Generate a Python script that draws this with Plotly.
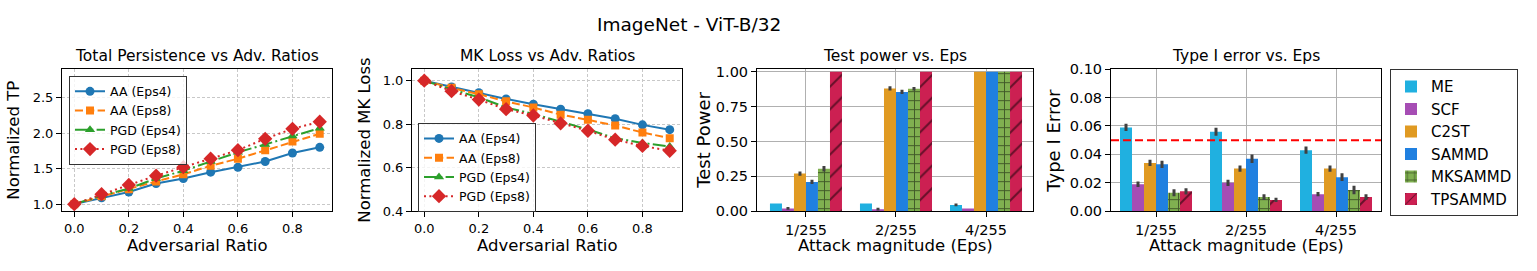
import plotly.graph_objects as go

W, H = 1537, 271

# ---------------- data ----------------
ratios = [0.0, 0.1, 0.2, 0.3, 0.4, 0.5, 0.6, 0.7, 0.8, 0.9]
line_names = ["AA (Eps4)", "AA (Eps8)", "PGD (Eps4)", "PGD (Eps8)"]

tp_aa4 = [1.00, 1.09, 1.17, 1.29, 1.36, 1.45, 1.52, 1.60, 1.72, 1.80]
tp_aa8 = [1.00, 1.11, 1.21, 1.32, 1.42, 1.54, 1.64, 1.76, 1.88, 1.99]
tp_pgd4 = [1.00, 1.12, 1.22, 1.36, 1.47, 1.60, 1.73, 1.84, 1.96, 2.07]
tp_pgd8 = [1.00, 1.14, 1.27, 1.40, 1.52, 1.64, 1.76, 1.92, 2.06, 2.16]

mk_aa4 = [1.00, 0.971, 0.945, 0.916, 0.892, 0.869, 0.848, 0.825, 0.797, 0.775]
mk_aa8 = [1.00, 0.967, 0.938, 0.905, 0.877, 0.844, 0.820, 0.794, 0.762, 0.736]
mk_pgd4 = [1.00, 0.960, 0.924, 0.877, 0.847, 0.811, 0.776, 0.736, 0.714, 0.697]
mk_pgd8 = [1.00, 0.952, 0.913, 0.869, 0.840, 0.804, 0.770, 0.729, 0.700, 0.678]

eps_labels = ["1/255", "2/255", "4/255"]
methods = ["ME", "SCF", "C2ST", "SAMMD", "MKSAMMD", "TPSAMMD"]

power = {
    "ME": [0.055, 0.055, 0.045],
    "SCF": [0.020, 0.015, 0.020],
    "C2ST": [0.270, 0.880, 1.000],
    "SAMMD": [0.210, 0.855, 1.000],
    "MKSAMMD": [0.305, 0.878, 1.000],
    "TPSAMMD": [1.000, 1.000, 1.000],
}
power_err = {
    "ME": [0.0, 0.0, 0.010],
    "SCF": [0.010, 0.010, 0.0],
    "C2ST": [0.015, 0.015, 0.0],
    "SAMMD": [0.015, 0.015, 0.0],
    "MKSAMMD": [0.020, 0.012, 0.0],
    "TPSAMMD": [0.0, 0.0, 0.0],
}
type1 = {
    "ME": [0.059, 0.056, 0.043],
    "SCF": [0.019, 0.020, 0.012],
    "C2ST": [0.034, 0.030, 0.030],
    "SAMMD": [0.033, 0.037, 0.024],
    "MKSAMMD": [0.013, 0.010, 0.015],
    "TPSAMMD": [0.014, 0.008, 0.010],
}
type1_err = {
    "ME": [0.0025, 0.0028, 0.0025],
    "SCF": [0.0020, 0.0022, 0.0015],
    "C2ST": [0.0022, 0.0022, 0.0022],
    "SAMMD": [0.0025, 0.0030, 0.0028],
    "MKSAMMD": [0.0025, 0.0020, 0.0030],
    "TPSAMMD": [0.0022, 0.0015, 0.0020],
}
alpha_level = 0.05

# ---------------- styles ----------------
FONT = "DejaVu Sans"
line_colors = ["#1f77b4", "#ff7f0e", "#2ca02c", "#d62728"]
line_dash = ["solid", "8px,3.3px", "13px,3.3px,2px,3.3px", "2px,3.4px"]
line_symbols = ["circle", "square", "triangle-up", "diamond"]
line_msize = [9, 8, 9, 11]

bar_colors = {"ME": "#20b0e0", "SCF": "#a64db4", "C2ST": "#e09a22",
              "SAMMD": "#2080e0", "MKSAMMD": "#80b050", "TPSAMMD": "#cc2052"}
bar_pattern = {"MKSAMMD": dict(shape="+", fgcolor="black", size=9, solidity=0.2),
               "TPSAMMD": dict(shape="/", fgcolor="black", size=16, solidity=0.12)}


def px_x(p):
    return p / W


def px_y(p):
    return 1 - p / H


fig = go.Figure()

# ---------- line panels ----------
for series, xa, ya, leg in [((tp_aa4, tp_aa8, tp_pgd4, tp_pgd8), "x", "y", "legend"),
                            ((mk_aa4, mk_aa8, mk_pgd4, mk_pgd8), "x2", "y2", "legend2")]:
    for i, vals in enumerate(series):
        fig.add_trace(go.Scatter(
            x=ratios, y=vals, mode="lines+markers", name=line_names[i],
            line=dict(color=line_colors[i], width=2, dash=line_dash[i]),
            marker=dict(symbol=line_symbols[i], size=line_msize[i], color=line_colors[i]),
            xaxis=xa, yaxis=ya, legend=leg, showlegend=True))

# ---------- bar panels ----------
for m in methods:
    pat = bar_pattern.get(m)
    mk = dict(color=bar_colors[m], line=dict(width=0))
    if pat:
        mk["pattern"] = dict(fillmode="overlay", **pat)
    fig.add_trace(go.Bar(
        x=eps_labels, y=power[m], name=m, marker=mk,
        error_y=dict(type="data", array=power_err[m], color="#404040", thickness=3, width=0),
        xaxis="x3", yaxis="y3", showlegend=False, legend="legend3"))
for m in methods:
    pat = bar_pattern.get(m)
    mk = dict(color=bar_colors[m], line=dict(width=0))
    if pat:
        mk["pattern"] = dict(fillmode="overlay", **pat)
    fig.add_trace(go.Bar(
        x=eps_labels, y=type1[m], name=m, marker=mk,
        error_y=dict(type="data", array=type1_err[m], color="#404040", thickness=3, width=0),
        xaxis="x4", yaxis="y4", showlegend=True, legend="legend3"))

# ---------- axes ----------
ydom = [px_y(216), px_y(65)]
common = dict(showline=True, mirror=True, linecolor="black", linewidth=1,
              ticks="outside", ticklen=5, tickcolor="black", zeroline=False)

line_ax_grid = dict(showgrid=True, gridcolor="#c8c8c8", gridwidth=0.8, griddash="3px,2px")
bar_ax_grid = dict(showgrid=True, gridcolor="#b0b0b0", gridwidth=1.1)

fig.update_layout(
    xaxis=dict(domain=[px_x(62), px_x(332)], anchor="y", range=[-0.045, 0.945],
               tickvals=[0, 0.2, 0.4, 0.6, 0.8], ticktext=["0.0", "0.2", "0.4", "0.6", "0.8"],
               tickfont=dict(size=13), **common, **line_ax_grid),
    yaxis=dict(domain=ydom, anchor="x", range=[0.9, 2.9],
               tickvals=[1.0, 1.5, 2.0, 2.5], ticktext=["1.0", "1.5", "2.0", "2.5"],
               tickfont=dict(size=13), **common, **line_ax_grid),
    xaxis2=dict(domain=[px_x(412), px_x(682)], anchor="y2", range=[-0.045, 0.945],
                tickvals=[0, 0.2, 0.4, 0.6, 0.8], ticktext=["0.0", "0.2", "0.4", "0.6", "0.8"],
                tickfont=dict(size=13), **common, **line_ax_grid),
    yaxis2=dict(domain=ydom, anchor="x2", range=[0.4, 1.053],
                tickvals=[0.4, 0.6, 0.8, 1.0], ticktext=["0.4", "0.6", "0.8", "1.0"],
                tickfont=dict(size=13), **common, **line_ax_grid),
    xaxis3=dict(domain=[px_x(757), px_x(1033)], anchor="y3", range=[-0.544, 2.522],
                type="category", tickfont=dict(size=14.5), **common, **bar_ax_grid),
    yaxis3=dict(domain=ydom, anchor="x3", range=[0, 1.018],
                tickvals=[0, 0.25, 0.5, 0.75, 1.0],
                ticktext=["0.00", "0.25", "0.50", "0.75", "1.00"],
                tickfont=dict(size=14.5), **common, **bar_ax_grid),
    xaxis4=dict(domain=[px_x(1111), px_x(1381)], anchor="y4", range=[-0.5, 2.5],
                type="category", tickfont=dict(size=14.5), **common, **bar_ax_grid),
    yaxis4=dict(domain=ydom, anchor="x4", range=[0, 0.1],
                tickvals=[0, 0.02, 0.04, 0.06, 0.08, 0.10],
                ticktext=["0.00", "0.02", "0.04", "0.06", "0.08", "0.10"],
                tickfont=dict(size=14.5), **common, **bar_ax_grid),
    barmode="group", bargap=0.2, bargroupgap=0,
)

# ---------- reference line ----------
fig.add_shape(type="line", xref="x4 domain", yref="y4", x0=0, x1=1,
              y0=alpha_level, y1=alpha_level,
              line=dict(color="red", width=2, dash="8px,4px"), layer="above")

# ---------- legends ----------
fig.update_layout(
    legend=dict(x=px_x(69), y=px_y(72), xanchor="left", yanchor="top",
                font=dict(size=12.5, family=FONT, color="black"),
                bgcolor="rgba(255,255,255,0.8)", bordercolor="#333", borderwidth=1,
                tracegroupgap=0, itemwidth=30),
    legend2=dict(x=px_x(418), y=px_y(122), xanchor="left", yanchor="top",
                 font=dict(size=12.5, family=FONT, color="black"),
                 bgcolor="rgba(255,255,255,0.8)", bordercolor="#333", borderwidth=1,
                 tracegroupgap=0, itemwidth=30),
    legend3=dict(x=px_x(1390), y=px_y(65), xanchor="left", yanchor="top",
                 font=dict(size=15, family=FONT, color="black"),
                 bgcolor="white", bordercolor="#333", borderwidth=1,
                 tracegroupgap=0, itemwidth=30),
)

# ---------- titles (text annotations) ----------
ann = []
ann.append(dict(text="ImageNet - ViT-B/32", x=px_x(689), y=px_y(18), font=dict(size=18.5)))
for txt, cx in [("Total Persistence vs Adv. Ratios", 197), ("MK Loss vs Adv. Ratios", 547),
                ("Test power vs. Eps", 895), ("Type I error vs. Eps", 1246)]:
    ann.append(dict(text=txt, x=px_x(cx), y=px_y(51), font=dict(size=15.5)))
for txt, cx, fs in [("Adversarial Ratio", 197, 16.5), ("Adversarial Ratio", 547, 16.5),
                    ("Attack magnitude (Eps)", 895, 16.5), ("Attack magnitude (Eps)", 1246, 16.5)]:
    ann.append(dict(text=txt, x=px_x(cx), y=px_y(252), font=dict(size=fs)))
for txt, cx, fs in [("Normalized TP", 14, 16.5), ("Normalized MK Loss", 365, 16.5),
                    ("Test Power", 704, 18), ("Type I Error", 1054, 18)]:
    ann.append(dict(text=txt, x=px_x(cx), y=px_y(141), font=dict(size=fs), textangle=-90))
for a in ann:
    a.update(xref="paper", yref="paper", showarrow=False, xanchor="center", yanchor="middle")
    a["font"].update(family=FONT, color="black")
fig.update_layout(annotations=ann)

fig.update_layout(width=W, height=H, margin=dict(l=0, r=0, t=0, b=0),
                  paper_bgcolor="white", plot_bgcolor="white",
                  font=dict(family=FONT, color="black"))

fig.write_html("out.html", config={"displayModeBar": False},
               post_script="document.body.style.margin='0px';")
